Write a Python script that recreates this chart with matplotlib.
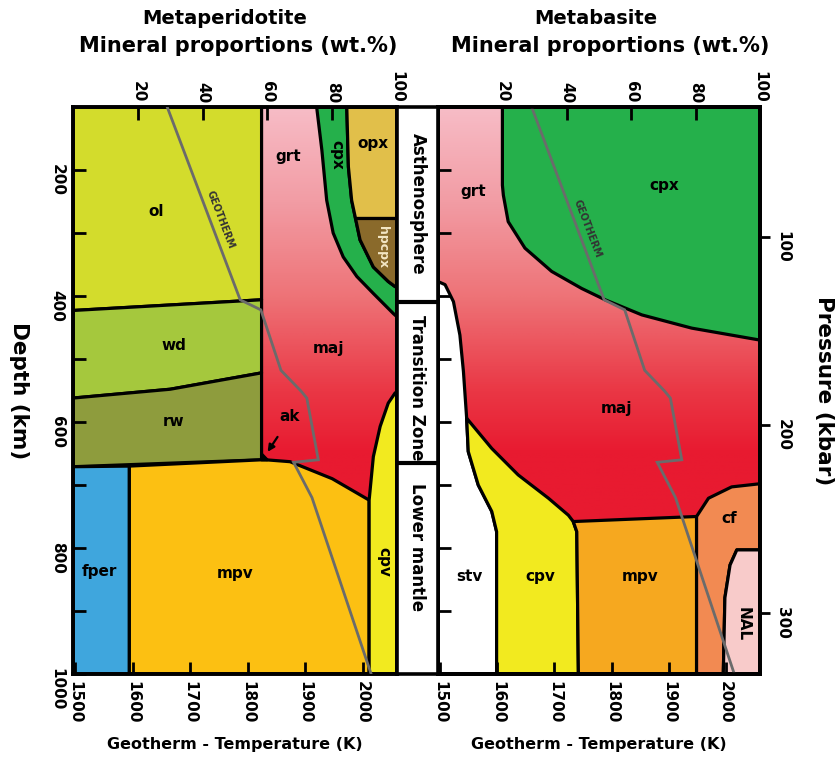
import matplotlib.pyplot as plt
import numpy as np
from matplotlib.colors import LinearSegmentedColormap, Normalize
from matplotlib.patches import Polygon

# geotherm, shared by both panels: temperature (K) against depth (km)
GEOTHERM_T = [1660, 1787, 1823, 1858, 1893, 1903, 1923, 1880, 1912, 2015]
GEOTHERM_DEPTH = [100, 406, 422, 518, 551, 562, 660, 664, 720, 1000]

# phase fields, vertices as (cumulative wt.%, depth km)
PERID_FIELDS = {
    "ol": [(0, 100), (58.2, 100), (58.2, 406), (0, 423)],
    "wd": [(0, 423), (58.2, 406), (58.2, 522), (30, 548), (0, 562)],
    "rw": [(0, 562), (30, 548), (58.2, 522), (58.2, 660), (0, 671)],
    "fper": [(0, 671), (17.4, 670), (17.4, 1000), (0, 1000)],
    "mpv": [(17.4, 670), (58.2, 660), (59.5, 660), (67, 663), (80, 690),
            (91.4, 724), (91.4, 1000), (17.4, 1000)],
    "cpv": [(91.4, 1000), (91.4, 724), (92.7, 655), (94.8, 607), (97.3, 570),
            (99.4, 554), (100, 552), (100, 1000)],
    "cpx": [(75.2, 100), (76.8, 168), (78.3, 248), (80.3, 300), (83.4, 338),
            (87.6, 369), (92.7, 396), (98.9, 428), (100, 433), (100, 386),
            (99.4, 385), (97.3, 377), (92.7, 354), (88.6, 311), (86, 248),
            (85, 195), (84.5, 100)],
    "opx": [(84.5, 100), (100, 100), (100, 277), (87.2, 277), (86, 248), (85, 195)],
    "hpcpx": [(87.2, 277), (100, 277), (100, 386), (99.4, 385), (97.3, 377),
              (92.7, 354), (88.6, 311)],
    "ak": [(58.2, 651), (59.9, 660), (58.2, 660)],
}
BASITE_FIELDS = {
    "cpx": [(20, 100), (100, 100), (100, 470), (78.8, 451), (63.3, 430),
            (51.9, 406), (44.6, 388), (35.3, 361), (27, 324), (21.8, 282),
            (20.3, 240), (20, 224)],
    "stv": [(0, 377), (2.2, 382), (4.8, 409), (6.8, 462), (7.9, 520), (8.4, 557),
            (8.9, 594), (9.4, 647), (12.5, 700), (16.7, 742), (18.2, 774),
            (18.2, 1000), (0, 1000)],
    "cpv": [(8.9, 594), (9.4, 647), (12.5, 700), (16.7, 742), (18.2, 774),
            (18.2, 1000), (43.6, 1000), (43.1, 774), (42, 758), (40.5, 748),
            (34.3, 721), (24.9, 684), (16.7, 642)],
    "mpv": [(42, 758), (43.1, 774), (43.6, 1000), (80.3, 1000), (80.3, 750)],
    "cf": [(80.3, 750), (80.3, 1000), (88.6, 1000), (89.1, 879), (90.7, 827),
           (92.8, 803), (100, 803), (100, 698), (91.2, 703), (84, 721)],
    "NAL": [(92.8, 803), (100, 803), (100, 1000), (88.6, 1000), (89.1, 879),
            (90.7, 827)],
}

PERID_COLORS = {
    "ol": "#D3DC2C", "wd": "#A5C83D", "rw": "#8E9C3D", "fper": "#3FA6DD",
    "mpv": "#FCC012", "cpv": "#F2EA1F", "cpx": "#25B04B", "opx": "#E1BF4A",
    "hpcpx": "#8A6A2B", "ak": "#FFFFFF",
}
BASITE_COLORS = {
    "cpx": "#25B04B", "stv": "#FFFFFF", "cpv": "#F2EA1F", "mpv": "#F6A81F",
    "cf": "#F28A52", "NAL": "#F8CBCA",
}

# grt -> maj colour ramp with depth
GRT_DEPTHS = [100, 250, 400, 550, 650, 1000]
GRT_SHADES = ["#F7BCC6", "#F29CA4", "#EE7377", "#EA3745", "#E81A30", "#E81A30"]

# (text, wt.%, depth, rotation, colour, size)
PERID_LABELS = [
    ("ol", 25.8, 266, 0, "black", 11), ("wd", 31, 478, 0, "black", 11),
    ("rw", 31, 600, 0, "black", 11), ("fper", 8.3, 838, 0, "black", 11),
    ("mpv", 50, 840, 0, "black", 11), ("cpv", 95.8, 822, -90, "black", 11),
    ("ak", 67, 592, 0, "black", 11), ("maj", 78.8, 483, 0, "black", 11),
    ("grt", 66.5, 179, 0, "black", 11), ("cpx", 81.4, 176, -90, "black", 11),
    ("opx", 92.7, 158, 0, "black", 11), ("hpcpx", 95.6, 322, -90, "#F3E6C4", 9),
]
BASITE_LABELS = [
    ("grt", 11, 234, 0, "black", 11), ("cpx", 70.2, 224, 0, "black", 11),
    ("maj", 55.4, 578, 0, "black", 11), ("stv", 9.9, 845, 0, "black", 11),
    ("cpv", 31.7, 845, 0, "black", 11), ("mpv", 62.7, 845, 0, "black", 11),
    ("cf", 90.4, 753, 0, "black", 11), ("NAL", 94.8, 920, -90, "black", 11),
]

ZONES = ["Asthenosphere", "Transition Zone", "Lower mantle"]
ZONE_BOUNDS = [410, 665]
ZONE_TEXT_DEPTH = [254, 545, 798]

WT_TICKS = [20, 40, 60, 80, 100]
T_TICKS = [1500, 1600, 1700, 1800, 1900, 2000]
DEPTH_TICKS = [200, 300, 400, 500, 600, 700, 800, 900, 1000]
P_TICKS = [100, 200, 300]

T_LIM = (1496, 2060)
DEPTH_LIM = (1000, 100)
P_LIM = (332.4, 30.9)

W, H = 840, 762
EDGE = 2.3
FRAME = 2.6


def box(x0, x1, y0, y1):
    return [x0 / W, 1 - y1 / H, (x1 - x0) / W, (y1 - y0) / H]


grt_cmap = LinearSegmentedColormap.from_list(
    "grt", [((d - 100) / 900, c) for d, c in zip(GRT_DEPTHS, GRT_SHADES)]
)


def draw_panel(ax, fields, colors, labels, geo_xy):
    grad = np.linspace(100, 1000, 600)[:, None]
    ax.imshow(grad, extent=(0, 100, 100, 1000), origin="lower", cmap=grt_cmap,
              norm=Normalize(100, 1000), aspect="auto", zorder=0)
    for name, pts in fields.items():
        ax.add_patch(Polygon(pts, closed=True, facecolor=colors[name],
                             edgecolor="black", lw=EDGE, joinstyle="round", zorder=1))
    ax.set_xlim(0, 100)
    ax.set_ylim(*DEPTH_LIM)
    for text, p, d, rot, color, size in labels:
        ax.text(p, d, text, rotation=rot, color=color, fontsize=size,
                fontweight="bold", ha="center", va="center", zorder=3)

    # twiny moves the host's ticks to the bottom, so set the top axis afterwards
    ax_t = ax.twiny()
    ax_t.set_xlim(*T_LIM)
    ax_t.xaxis.tick_bottom()
    ax_t.xaxis.set_label_position("bottom")
    ax_t.set_xticks(T_TICKS)
    ax_t.tick_params(axis="x", direction="in", length=9, width=2, labelsize=11,
                     labelrotation=-90, pad=5)
    ax_t.plot(GEOTHERM_T, GEOTHERM_DEPTH, color="#6B6B6B", lw=2, zorder=4,
              solid_joinstyle="miter")
    ax_t.text(geo_xy[0], geo_xy[1], "GEOTHERM", rotation=-69, fontsize=7,
              color="#333333", ha="center", va="center", rotation_mode="anchor")
    ax_t.set_xlabel("Geotherm - Temperature (K)", fontsize=11.5,
                    fontweight="bold", labelpad=10)

    ax.xaxis.tick_top()
    ax.set_xticks(WT_TICKS)
    ax.set_xticklabels([str(t) for t in WT_TICKS])
    ax.set_yticks(DEPTH_TICKS)
    ax.tick_params(axis="x", direction="in", length=9, width=2, labelsize=11,
                   labelrotation=-90, pad=3, top=True, bottom=False,
                   labeltop=True, labelbottom=False)
    ax.tick_params(axis="y", direction="in", length=9, width=2, labelsize=11,
                   labelrotation=-90, pad=6)
    for a in (ax, ax_t):
        for s in a.spines.values():
            s.set_linewidth(FRAME)
    return ax_t


fig = plt.figure(figsize=(8.4, 7.62), dpi=100)
plt.rcParams["font.weight"] = "bold"

ax_l = fig.add_axes(box(73, 397, 107, 674))
draw_panel(ax_l, PERID_FIELDS, PERID_COLORS, PERID_LABELS, (1752, 279))
ax_l.set_yticklabels([str(d) if d % 200 == 0 else "" for d in DEPTH_TICKS])
ax_l.set_ylabel("Depth (km)", fontsize=15.5, fontweight="bold", rotation=-90,
                labelpad=22, va="center")
ax_l.annotate("", xy=(59.6, 651), xytext=(63.6, 620),
              arrowprops=dict(arrowstyle="-|>", color="black", lw=1.6,
                              mutation_scale=10), zorder=5)

ax_r = fig.add_axes(box(438, 760, 107, 674))
draw_panel(ax_r, BASITE_FIELDS, BASITE_COLORS, BASITE_LABELS, (1757, 293))
ax_r.set_yticklabels([])
ax_p = ax_r.twinx()
ax_p.set_ylim(*P_LIM)
ax_p.set_yticks(P_TICKS)
ax_p.tick_params(axis="y", direction="out", length=7, width=2, labelsize=11,
                 labelrotation=-90, pad=4)
ax_p.set_ylabel("Pressure (kbar)", fontsize=15.5, fontweight="bold", rotation=-90,
                labelpad=24, va="center")
for s in ax_p.spines.values():
    s.set_linewidth(FRAME)

ax_m = fig.add_axes(box(397, 438, 107, 674))
ax_m.set_xlim(0, 1)
ax_m.set_ylim(*DEPTH_LIM)
ax_m.set_xticks([])
ax_m.set_yticks([])
for s in ax_m.spines.values():
    s.set_linewidth(FRAME)
for d in ZONE_BOUNDS:
    ax_m.axhline(d, color="black", lw=3)
for name, d in zip(ZONES, ZONE_TEXT_DEPTH):
    ax_m.text(0.5, d, name, rotation=-90, fontsize=12, fontweight="bold",
              ha="center", va="center")

fig.text(225 / W, 1 - 18 / H, "Metaperidotite", fontsize=14, fontweight="bold",
         ha="center", va="center")
fig.text(238 / W, 1 - 46 / H, "Mineral proportions (wt.%)", fontsize=15,
         fontweight="bold", ha="center", va="center")
fig.text(596 / W, 1 - 18 / H, "Metabasite", fontsize=14, fontweight="bold",
         ha="center", va="center")
fig.text(610 / W, 1 - 46 / H, "Mineral proportions (wt.%)", fontsize=15,
         fontweight="bold", ha="center", va="center")

fig.savefig("out.png", dpi=100)
